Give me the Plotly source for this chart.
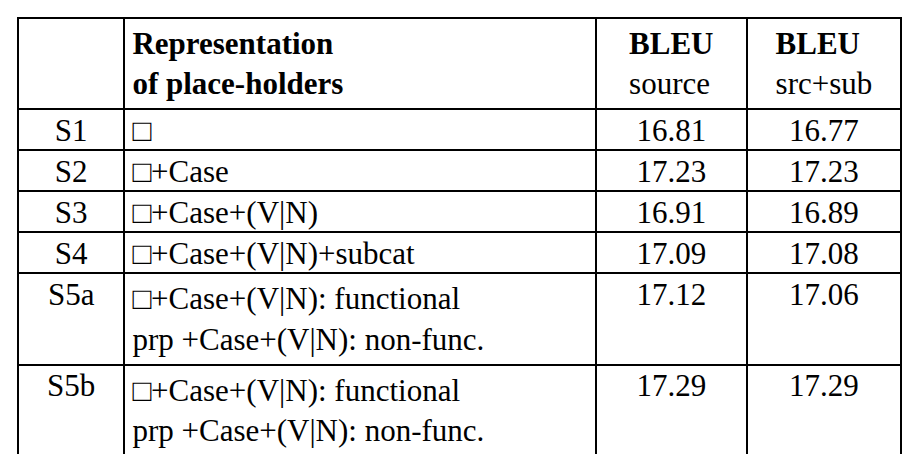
import plotly.graph_objects as go

ids = ["S1", "S2", "S3", "S4", "S5a", "S5b"]
reps = [
    "□",
    "□+Case",
    "□+Case+(V|N)",
    "□+Case+(V|N)+subcat",
    "□+Case+(V|N): functional<br>prp +Case+(V|N): non-func.",
    "□+Case+(V|N): functional<br>prp +Case+(V|N): non-func.",
]
bleu_source = ["16.81", "17.23", "16.91", "17.09", "17.12", "17.29"]
bleu_srcsub = ["16.77", "17.23", "16.89", "17.08", "17.06", "17.29"]

header = ["", "<b>Representation<br>of place-holders</b>", "<b>BLEU</b><br>source", "<b>BLEU</b><br>src+sub"]

font = dict(family="Liberation Serif", size=31, color="black")

fig = go.Figure(go.Table(
    domain=dict(x=[10 / 911, 893 / 911], y=[0, 1 - 10 / 454]),
    columnwidth=[107, 474, 152, 155],
    header=dict(
        values=header,
        align=["center", "left", "center", "center"],
        fill_color="white",
        line=dict(color="black", width=2),
        font=font,
        height=41,
    ),
    cells=dict(
        values=[ids, reps, bleu_source, bleu_srcsub],
        align=["center", "left", "center", "center"],
        fill_color="white",
        line=dict(color="black", width=2),
        font=font,
        height=41,
    ),
))

fig.update_layout(
    width=911, height=454,
    margin=dict(l=0, r=0, t=0, b=0),
    paper_bgcolor="white",
)
fig.write_html("out.html")
